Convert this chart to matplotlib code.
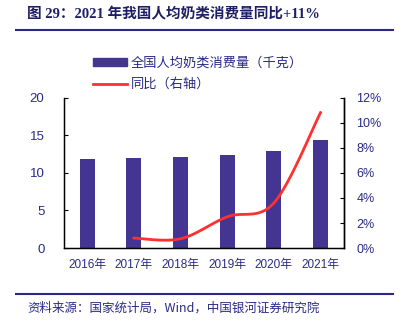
import matplotlib
matplotlib.use("Agg")
import matplotlib.pyplot as plt
import numpy as np
from matplotlib.lines import Line2D
from matplotlib.patches import Patch

plt.rcParams['font.family'] = ['Liberation Sans', 'Noto Sans CJK SC']

years = ["2016年", "2017年", "2018年", "2019年", "2020年", "2021年"]
consumption = [11.9, 12.0, 12.1, 12.4, 12.9, 14.3]   # 千克
yoy = [None, 0.8, 0.75, 2.5, 3.6, 10.8]               # %

NAVY = "#2a2a86"
BAR = "#433591"
RED = "#ff3030"


def smooth(xs, ys, n=30):
    # Catmull-Rom style smoothing between consecutive points
    pts = np.column_stack([xs, ys]).astype(float)
    out = []
    for i in range(len(pts) - 1):
        p0 = pts[i - 1] if i > 0 else pts[i]
        p1, p2 = pts[i], pts[i + 1]
        p3 = pts[i + 2] if i + 2 < len(pts) else pts[i + 1]
        c1 = p1 + (p2 - p0) / 6.0
        c2 = p2 - (p3 - p1) / 6.0
        t = np.linspace(0, 1, n)[:, None]
        seg = ((1 - t) ** 3) * p1 + 3 * ((1 - t) ** 2) * t * c1 + 3 * (1 - t) * t ** 2 * c2 + t ** 3 * p2
        out.append(seg if i == 0 else seg[1:])
    seg = np.vstack(out)
    return seg[:, 0], seg[:, 1]


fig = plt.figure(figsize=(4.05, 3.21), dpi=100)
ax = fig.add_axes([0.158, 0.227, 0.691, 0.469])
x = np.arange(len(years))
ax.bar(x, consumption, width=0.32, color=BAR, zorder=2)
ax.set_xlim(-0.5, len(years) - 0.5)
ax.set_ylim(0, 20)
ax.set_yticks([0, 5, 10, 15, 20])
ax.set_xticks(x)
ax.set_xticklabels(years)
ax.tick_params(axis='y', direction='in', length=3, colors='black', labelcolor=NAVY, labelsize=9.5, pad=14)
ax.tick_params(axis='x', length=0, labelcolor=NAVY, labelsize=8.5, pad=8)
ax.spines['top'].set_visible(False)
for s in ('left', 'right', 'bottom'):
    ax.spines[s].set_linewidth(1.0)

ax2 = ax.twinx()
ax2.set_ylim(0, 12)
ax2.set_yticks(range(0, 13, 2))
ax2.set_yticklabels([f"{v}%" for v in range(0, 13, 2)])
ax2.tick_params(axis='y', direction='in', length=3, colors='black', labelcolor=NAVY, labelsize=9, pad=9)
ax2.spines['top'].set_visible(False)
ax2.spines['right'].set_linewidth(1.0)
lx = [i for i, v in enumerate(yoy) if v is not None]
ly = [v for v in yoy if v is not None]
sx, sy = smooth(lx, ly)
ax2.plot(sx, sy, color=RED, lw=2.0, zorder=3)

handles = [Patch(color=BAR), Line2D([], [], color=RED, lw=2.0)]
labels = ["全国人均奶类消费量（千克）", "同比（右轴）"]
fig.legend(handles, labels, loc='upper left', bbox_to_anchor=(0.2, 0.86), frameon=False,
           prop={'family': ['Noto Sans CJK SC'], 'size': 9.5}, labelcolor=NAVY,
           handlelength=2.6, handleheight=0.5, labelspacing=0.6, handletextpad=0.3)

fig.text(0.067, 0.955, "图 29：2021 年我国人均奶类消费量同比+11%", color="#1e1e66",
         fontsize=10.5, fontweight='bold', va='center', ha='left',
         family=['Liberation Serif', 'Noto Sans CJK SC'])
fig.add_artist(Line2D([0.04, 0.97], [0.905, 0.905], color=NAVY, lw=1.5, transform=fig.transFigure))
fig.add_artist(Line2D([0.04, 0.97], [0.084, 0.084], color=NAVY, lw=1.5, transform=fig.transFigure))
fig.text(0.067, 0.04, "资料来源：国家统计局，Wind，中国银河证券研究院", color=NAVY,
         fontsize=9, style='italic', va='center', ha='left',
         family=['Noto Sans CJK SC', 'DejaVu Sans'])

fig.savefig("out.png", dpi=100)
